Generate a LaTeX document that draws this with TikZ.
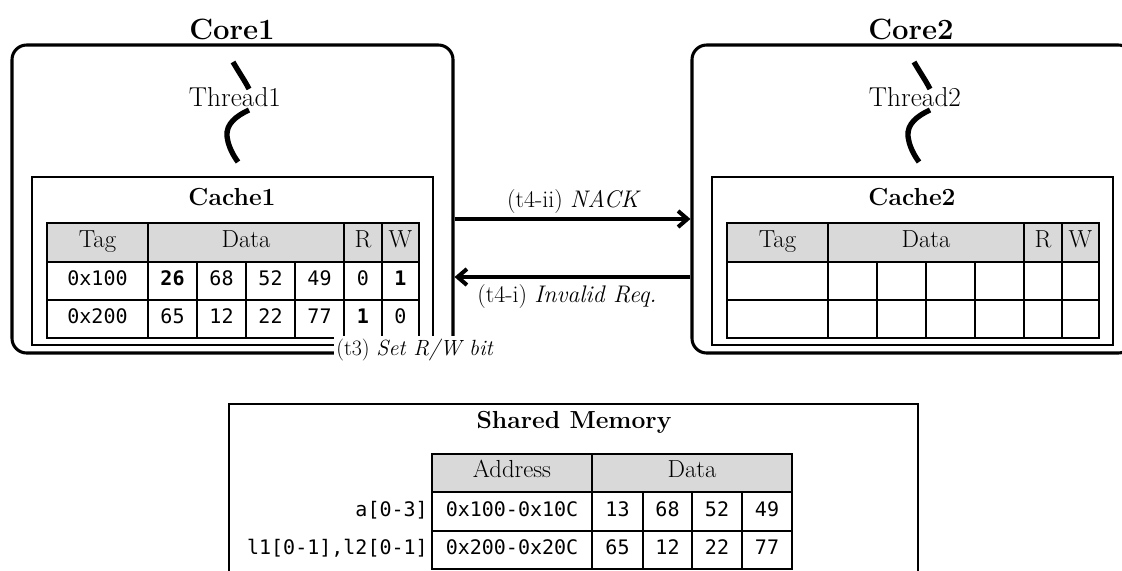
\documentclass[tikz,border=0pt]{standalone}
\usepackage{fontspec}
\newfontfamily\monofam{DejaVu Sans Mono}
\usetikzlibrary{arrows.meta}
\definecolor{hdgrey}{RGB}{217,217,217}
\newcommand\coref{\fontsize{22}{25}\selectfont\bfseries}
\newcommand\cachef{\fontsize{18.5}{21}\selectfont\bfseries}
\newcommand\memf{\fontsize{18.5}{21}\selectfont\bfseries}
\newcommand\thrf{\fontsize{20.5}{23}\selectfont}
\newcommand\hdf{\fontsize{18.5}{21}\selectfont}
\newcommand\lblf{\fontsize{18}{21}\selectfont}
\newcommand\lblsf{\fontsize{16.5}{19}\selectfont}
\newcommand\mymono{\monofam\fontsize{15}{18}\selectfont}
% [style]{name}{x1}{y1}{x2}{y2}{text}
\newcommand\tc[7][]{\node[tcell,#1,minimum width={(#5-#3)*0.75pt},minimum height={(#6-#4)*0.75pt}] (#2) at ({(#3+#5)/2},{(#4+#6)/2}) {#7};}
\begin{document}
\begin{tikzpicture}[x=0.75pt,y=-0.75pt,
  corebox/.style={draw, line width=2.3pt, rounded corners=11pt, inner sep=0pt},
  box/.style={draw, line width=2.1pt, inner sep=0pt},
  tcell/.style={draw, line width=2pt, inner sep=0pt, font=\mymono, text height=0.7em, text depth=0pt},
  hd/.style={fill=hdgrey, font=\hdf},
  arr/.style={line width=3pt, -{Straight Barb[length=7pt,width=12pt]}},
  thr/.style={line width=4pt},
  lbl/.style={font=\lblf, inner sep=0pt},
  rowlab/.style={font=\mymono, anchor=east, inner sep=2pt, text height=0.7em, text depth=0pt}]
\useasboundingbox (0,0) rectangle (1122,571);
\clip (0,0) rectangle (1122,571);

% ---- Core boxes
\node[corebox, minimum width=441*0.75pt, minimum height=308*0.75pt] (core1) at (232.5,199) {};
\node[corebox, minimum width=441*0.75pt, minimum height=308*0.75pt] (core2) at (912.5,199) {};
\node[font=\coref, anchor=base, inner sep=0pt] (core1t) at (232,40) {Core1};
\node[font=\coref, anchor=base, inner sep=0pt] (core2t) at (911,40) {Core2};

% ---- Threads
\node[font=\thrf, anchor=base, inner sep=0pt] (thr1) at (235,106) {Thread1};
\node[font=\thrf, anchor=base, inner sep=0pt] (thr2) at (915,106) {Thread2};
\foreach \dx in {0,681}{
  \begin{scope}[xshift=\dx*0.75pt]
  \draw[thr] (233,62) .. controls (240,74) and (245,81) .. (249,89);
  \draw[thr] (249,110) .. controls (236,116) and (226,124) .. (227,136) .. controls (228,146) and (233,155) .. (238,162);
  \end{scope}
}

% ---- Cache boxes
\node[box, minimum width=401*0.75pt, minimum height=168*0.75pt] (cache1) at (232.5,261) {};
\node[box, minimum width=401*0.75pt, minimum height=168*0.75pt] (cache2) at (912.5,261) {};
\node[font=\cachef, anchor=base, inner sep=0pt] (cache1t) at (232,205) {Cache1};
\node[font=\cachef, anchor=base, inner sep=0pt] (cache2t) at (912,205) {Cache2};

% ---- Cache1 table
\tc[hd]{c1h1}{47}{223}{148}{262}{Tag}
\tc[hd]{c1h2}{148}{223}{344}{262}{Data}
\tc[hd]{c1h3}{344}{223}{382}{262}{R}
\tc[hd]{c1h4}{382}{223}{419}{262}{W}
\tc{c1a1}{47}{262}{148}{300}{0x100}
\tc{c1a2}{148}{262}{197}{300}{\bfseries 26}
\tc{c1a3}{197}{262}{246}{300}{68}
\tc{c1a4}{246}{262}{295}{300}{52}
\tc{c1a5}{295}{262}{344}{300}{49}
\tc{c1a6}{344}{262}{382}{300}{0}
\tc{c1a7}{382}{262}{419}{300}{\bfseries 1}
\tc{c1b1}{47}{300}{148}{338}{0x200}
\tc{c1b2}{148}{300}{197}{338}{65}
\tc{c1b3}{197}{300}{246}{338}{12}
\tc{c1b4}{246}{300}{295}{338}{22}
\tc{c1b5}{295}{300}{344}{338}{77}
\tc{c1b6}{344}{300}{382}{338}{\bfseries 1}
\tc{c1b7}{382}{300}{419}{338}{0}

% ---- Cache2 table
\tc[hd]{c2h1}{727}{223}{828}{262}{Tag}
\tc[hd]{c2h2}{828}{223}{1024}{262}{Data}
\tc[hd]{c2h3}{1024}{223}{1062}{262}{R}
\tc[hd]{c2h4}{1062}{223}{1099}{262}{W}
\foreach \r/\ya/\yb in {1/262/300,2/300/338}{
  \foreach \c/\xa/\xb in {1/727/828,2/828/877,3/877/926,4/926/975,5/975/1024,6/1024/1062,7/1062/1099}{
    \tc{c2r\r-\c}{\xa}{\ya}{\xb}{\yb}{}
  }
}

% ---- Messages between caches
\coordinate (ya) at (0,219);
\coordinate (yb) at (0,277);
\draw[arr] (core1.east |- ya) -- (core2.west |- ya);
\draw[arr] (core2.west |- yb) -- (core1.east |- yb);
\node[lbl, anchor=base] (nack) at (574,207) {(t4-ii) \textit{NACK}};
\node[lbl, anchor=base] (inval) at (567,302) {(t4-i) \textit{Invalid Req.}};
\node[lbl, font=\lblsf, anchor=base, fill=white, inner sep=2pt] (t3) at (415,355) {(t3) \textit{Set R/W bit}};

% ---- Shared memory
\node[box, minimum width=689*0.75pt, minimum height=230*0.75pt] (mem) at (573.5,519) {};
\node[font=\memf, anchor=base, inner sep=0pt] (memt) at (574,428) {Shared Memory};
\tc[hd]{mh1}{432}{454}{592}{492}{Address}
\tc[hd]{mh2}{592}{454}{792}{492}{Data}
\tc{ma1}{432}{492}{592}{531}{0x100-0x10C}
\tc{ma2}{592}{492}{643}{531}{13}
\tc{ma3}{643}{492}{692}{531}{68}
\tc{ma4}{692}{492}{742}{531}{52}
\tc{ma5}{742}{492}{792}{531}{49}
\tc{mb1}{432}{531}{592}{569}{0x200-0x20C}
\tc{mb2}{592}{531}{643}{569}{65}
\tc{mb3}{643}{531}{692}{569}{12}
\tc{mb4}{692}{531}{742}{569}{22}
\tc{mb5}{742}{531}{792}{569}{77}
\node[rowlab] (rl1) at (ma1.west) {a[0-3]};
\node[rowlab] (rl2) at (mb1.west) {l1[0-1],l2[0-1]};
\end{tikzpicture}
\end{document}
